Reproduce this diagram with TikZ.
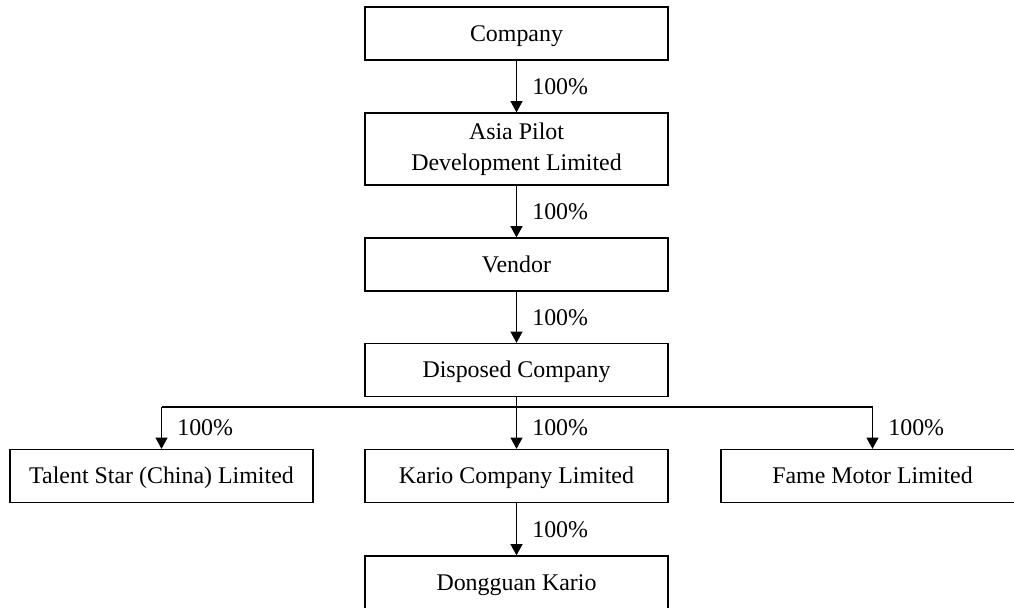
\documentclass[tikz,border=0pt]{standalone}
\usepackage{fontspec}
\setmainfont{Liberation Serif}
\usetikzlibrary{arrows.meta}
\tikzset{
	holding/.style={draw,line width=0.9pt,minimum width=7.575cm,minimum height=1.325cm,
		align=center,inner sep=0pt,text height=14.5pt,text depth=3.5pt,
		font=\fontsize{17}{22}\selectfont},
	arr/.style={line width=0.9pt,-{Triangle[length=8pt,width=8.5pt]}},
	pct/.style={right=0.38cm,inner sep=0pt,font=\fontsize{17}{22}\selectfont}
}
\begin{document}
\begin{tikzpicture}[x=0.025cm,y=-0.025cm]
\useasboundingbox (0,0) rectangle (1014,607);
\node[holding] (company) at (516.5,33.5) {Company};
\node[holding,minimum height=1.8cm,text height=,text depth=] (asia) at (516.5,149) {Asia Pilot\\Development Limited};
\node[holding] (vendor) at (516.5,264.5) {Vendor};
\node[holding] (disposed) at (516.5,370) {Disposed Company};
\node[holding] (talent) at (161.5,476) {Talent Star (China) Limited};
\node[holding] (kario) at (516.5,476) {Kario Company Limited};
\node[holding] (fame) at (872.5,476) {Fame Motor Limited};
\node[holding] (dongguan) at (516.5,582.5) {Dongguan Kario};
\coordinate (bus) at (516.5,407);
\coordinate (busL) at (161.5,407);
\coordinate (busR) at (872.5,407);
\draw[arr] (company) -- node[pct] {100\%} (asia);
\draw[arr] (asia) -- node[pct] {100\%} (vendor);
\draw[arr] (vendor) -- node[pct] {100\%} (disposed);
\draw[line width=0.9pt] (disposed) -- (bus);
\draw[line width=0.9pt] (busL) -- (busR);
\draw[arr] (busL) -- node[pct] {100\%} (talent);
\draw[arr] (bus) -- node[pct] {100\%} (kario);
\draw[arr] (busR) -- node[pct] {100\%} (fame);
\draw[arr] (kario) -- node[pct] {100\%} (dongguan);
\end{tikzpicture}
\end{document}
